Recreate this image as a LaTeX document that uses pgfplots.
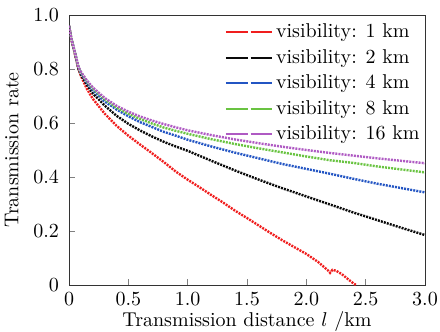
\documentclass[border=0pt]{standalone}
\usepackage{pgfplots}
\pgfplotsset{compat=1.18}
\definecolor{cred}{RGB}{240,30,30}
\definecolor{cblack}{RGB}{10,10,10}
\definecolor{cblue}{RGB}{35,85,195}
\definecolor{cgreen}{RGB}{105,195,65}
\definecolor{cpurple}{RGB}{175,90,195}
\begin{document}
\begin{tikzpicture}
\begin{axis}[
  scale only axis,
  width=178pt, height=135pt,
  xmin=0, xmax=3, ymin=0, ymax=1,
  xtick={0,0.5,1,1.5,2,2.5,3},
  xticklabels={0,0.5,1.0,1.5,2.0,2.5,3.0},
  ytick={0,0.2,0.4,0.6,0.8,1.0},
  yticklabels={0,0.2,0.4,0.6,0.8,1.0},
  tick align=inside, xtick pos=bottom, ytick pos=left,
  major tick length=3pt,
  yticklabel style={xshift=-1.5pt},
  axis line style={black!80},
  xlabel={Transmission distance $l$ /km},
  ylabel={Transmission rate},
  xlabel style={yshift=4pt},
  ylabel style={yshift=0.5pt},
  legend style={draw=none, fill=none, at={(0.42,0.995)}, anchor=north west,
    row sep=1.1pt, font=\normalsize, nodes={inner sep=1.6pt}},
  legend cell align=left,
  legend image code/.code={
    \draw[#1,solid,line width=1pt] (0pt,0pt) -- (11pt,0pt);
    \draw[#1,solid,line width=1pt] (12.3pt,0pt) -- (23pt,0pt);
  },
  every axis plot/.append style={line width=1.2pt, dash pattern=on 1pt off 0.55pt},
  clip=true,
]
\coordinate (bl) at (rel axis cs:0,0);
\coordinate (tr) at (rel axis cs:1,1);
\addplot[cred] coordinates {
(0,0.96)(0.02,0.91)(0.05,0.855)(0.08,0.80)(0.1,0.775)(0.15,0.727)(0.2,0.69)
(0.3,0.635)(0.4,0.59)(0.5,0.553)(0.6,0.52)(0.7,0.488)(0.8,0.455)(0.9,0.42)
(1.0,0.39)(1.1,0.362)(1.2,0.333)(1.3,0.305)(1.4,0.275)(1.5,0.248)(1.6,0.22)
(1.7,0.192)(1.8,0.165)(1.9,0.14)(2.0,0.115)(2.1,0.085)(2.18,0.055)(2.2,0.045)
(2.22,0.056)(2.25,0.053)(2.3,0.04)(2.35,0.022)(2.4,0.005)(2.42,0)};
\addlegendentry{visibility: 1 km}
\addplot[cblack] coordinates {
(0,0.96)(0.02,0.91)(0.05,0.858)(0.08,0.80)(0.1,0.78)(0.15,0.742)(0.2,0.71)
(0.3,0.665)(0.4,0.627)(0.5,0.597)(0.6,0.572)(0.7,0.55)(0.8,0.53)(0.9,0.513)
(1.0,0.497)(1.2,0.46)(1.4,0.424)(1.6,0.39)(1.8,0.358)(2.0,0.328)(2.2,0.298)
(2.4,0.268)(2.6,0.24)(2.8,0.212)(3.0,0.185)};
\addlegendentry{visibility: 2 km}
\addplot[cblue] coordinates {
(0,0.96)(0.02,0.912)(0.05,0.86)(0.08,0.805)(0.1,0.785)(0.15,0.75)(0.2,0.722)
(0.3,0.68)(0.4,0.65)(0.5,0.625)(0.6,0.603)(0.7,0.585)(0.8,0.567)(0.9,0.553)
(1.0,0.538)(1.2,0.513)(1.4,0.49)(1.6,0.469)(1.8,0.448)(2.0,0.43)(2.2,0.412)
(2.4,0.393)(2.6,0.375)(2.8,0.359)(3.0,0.343)};
\addlegendentry{visibility: 4 km}
\addplot[cgreen] coordinates {
(0,0.96)(0.02,0.912)(0.05,0.861)(0.08,0.807)(0.1,0.788)(0.15,0.755)(0.2,0.728)
(0.3,0.688)(0.4,0.657)(0.5,0.634)(0.6,0.615)(0.7,0.598)(0.8,0.583)(0.9,0.571)
(1.0,0.56)(1.2,0.54)(1.4,0.522)(1.6,0.506)(1.8,0.491)(2.0,0.476)(2.2,0.462)
(2.4,0.452)(2.6,0.439)(2.8,0.428)(3.0,0.417)};
\addlegendentry{visibility: 8 km}
\addplot[cpurple] coordinates {
(0,0.96)(0.02,0.913)(0.05,0.862)(0.08,0.808)(0.1,0.79)(0.15,0.758)(0.2,0.732)
(0.3,0.693)(0.4,0.664)(0.5,0.642)(0.6,0.624)(0.7,0.609)(0.8,0.596)(0.9,0.584)
(1.0,0.573)(1.2,0.555)(1.4,0.539)(1.6,0.525)(1.8,0.512)(2.0,0.5)(2.2,0.489)
(2.4,0.479)(2.6,0.469)(2.8,0.46)(3.0,0.451)};
\addlegendentry{visibility: 16 km}
\end{axis}
\pgfresetboundingbox
\path ([xshift=-34.5pt,yshift=-23pt]bl) rectangle ([xshift=7.5pt,yshift=7.5pt]tr);
\end{tikzpicture}
\end{document}
